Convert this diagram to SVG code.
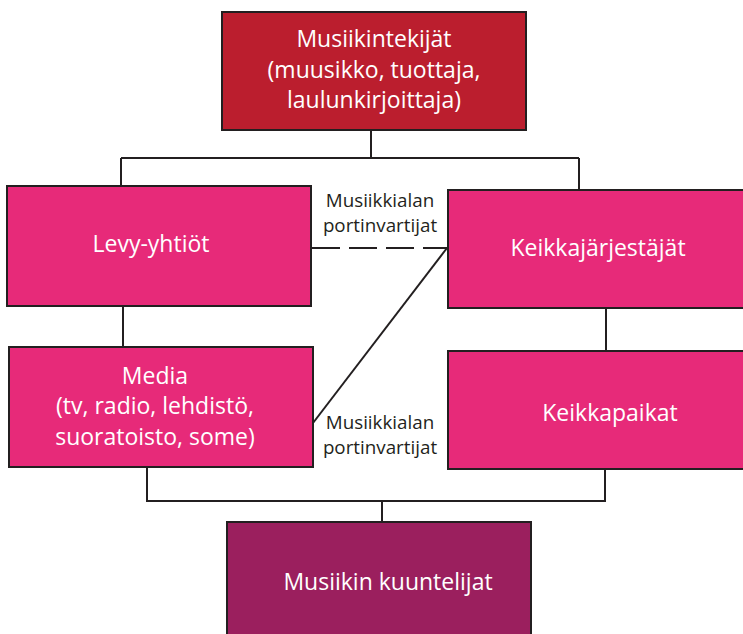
<svg xmlns="http://www.w3.org/2000/svg" width="743" height="634" viewBox="0 0 743 634">
<style>
.box{stroke:#231f20;stroke-width:2}
.t{font-family:"Open Sans","Noto Sans",sans-serif;font-size:23px;fill:#ffffff;text-anchor:middle}
.lbl{font-family:"Open Sans","Noto Sans",sans-serif;font-size:18.8px;fill:#231f20;text-anchor:middle}
.c{stroke:#231f20;stroke-width:2;fill:none}
</style>
<rect width="743" height="634" fill="#ffffff"/>
<g id="connectors">
<path class="c" d="M371 130 V158 M121 158 H579 M121 158 V186 M579 158 V190"/>
<path class="c" d="M123 306 V347"/>
<path class="c" d="M606 308 V351"/>
<path class="c" d="M147 467 V501 H605 V470 M382 501 V522"/>
<path class="c" d="M312 248 H447" stroke-dasharray="28 9"/>
<path class="c" d="M447 248 L313 423"/>
</g>
<g id="musiikintekijat">
<rect class="box" x="222" y="12" width="304" height="118" fill="#bb1e2e"/>
<text class="t" x="374" y="47">Musiikintekijät</text>
<text class="t" x="374" y="78">(muusikko, tuottaja,</text>
<text class="t" x="374" y="108">laulunkirjoittaja)</text>
</g>
<g id="levy-yhtiot">
<rect class="box" x="7" y="186" width="304" height="120" fill="#e72a79"/>
<text class="t" x="151" y="252">Levy-yhtiöt</text>
</g>
<g id="media">
<rect class="box" x="9" y="347" width="304" height="120" fill="#e72a79"/>
<text class="t" x="155" y="384">Media</text>
<text class="t" x="155" y="414">(tv, radio, lehdistö,</text>
<text class="t" x="155" y="445">suoratoisto, some)</text>
</g>
<g id="keikkajarjestajat">
<rect class="box" x="448" y="190" width="300" height="118" fill="#e72a79"/>
<text class="t" x="598" y="256">Keikkajärjestäjät</text>
</g>
<g id="keikkapaikat">
<rect class="box" x="448" y="351" width="300" height="118" fill="#e72a79"/>
<text class="t" x="610" y="421">Keikkapaikat</text>
</g>
<g id="musiikin-kuuntelijat">
<rect class="box" x="227" y="522" width="304" height="120" fill="#9b1f5e"/>
<text class="t" x="388" y="590">Musiikin kuuntelijat</text>
</g>
<g id="labels">
<text class="lbl" x="380" y="207">Musiikkialan</text>
<text class="lbl" x="380" y="232">portinvartijat</text>
<text class="lbl" x="380" y="429">Musiikkialan</text>
<text class="lbl" x="380" y="454">portinvartijat</text>
</g>
</svg>
